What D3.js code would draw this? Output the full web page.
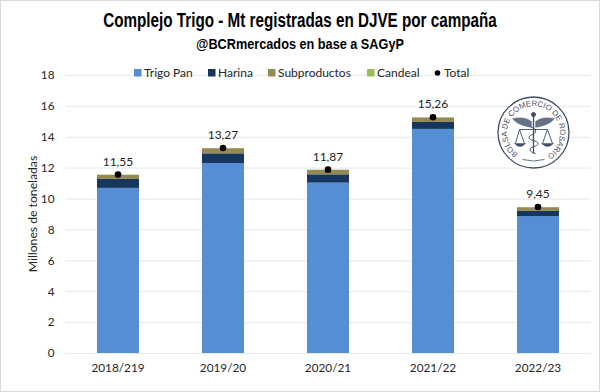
<!DOCTYPE html>
<html>
<head>
<meta charset="utf-8">
<script src="https://cdn.jsdelivr.net/npm/d3@7"></script>
<style>
  html, body { margin: 0; padding: 0; background: #fff; }
  svg { display: block; }
  text { font-family: Lato, sans-serif; fill: #262626; }
</style>
</head>
<body>
<div id="chart"></div>
<script>
'use strict';

const campaigns = ['2018/219', '2019/20', '2020/21', '2021/22', '2022/23'];
const seriesNames = ['Trigo Pan', 'Harina', 'Subproductos', 'Candeal'];
const trigoPan = [10.69, 12.30, 11.03, 14.51, 8.87];
const harina = [0.58, 0.63, 0.54, 0.45, 0.33];
const subproductos = [0.27, 0.33, 0.29, 0.29, 0.24];
const candeal = [0.01, 0.01, 0.01, 0.01, 0.01];
const totals = [11.55, 13.27, 11.87, 15.26, 9.45];
const totalLabels = ['11,55', '13,27', '11,87', '15,26', '9,45'];
const yTicks = [0, 2, 4, 6, 8, 10, 12, 14, 16, 18];
const colors = ['#558ed5', '#17365d', '#948a54', '#9bbb59'];

const width = 600;
const height = 392;
const margin = { top: 75, right: 9.5, bottom: 39, left: 65.5 };

const svg = d3.select('#chart').append('svg')
    .attr('width', width)
    .attr('height', height);

svg.append('rect')
    .attr('x', 0.5).attr('y', 0.5)
    .attr('width', width - 1).attr('height', height - 1)
    .attr('fill', '#fff')
    .attr('stroke', '#d9d9d9');

const xScale = d3.scaleBand()
    .domain(campaigns)
    .range([margin.left, width - margin.right])
    .paddingInner(0.6)
    .paddingOuter(0.3);

const yScale = d3.scaleLinear()
    .domain([0, 18])
    .range([height - margin.bottom, margin.top]);

// grid
const yAxis = d3.axisLeft(yScale)
    .tickValues(yTicks)
    .tickSize(-(width - margin.left - margin.right))
    .tickPadding(11);

const yG = svg.append('g')
    .attr('transform', 'translate(' + margin.left + ',0)')
    .call(yAxis);
yG.select('.domain').remove();
yG.selectAll('line').attr('stroke', '#ebebeb').attr('stroke-width', 1.2);
yG.selectAll('text').style('font-size', '11.8px').style('font-family', 'Lato, sans-serif').style('fill', '#262626');

const xAxis = d3.axisBottom(xScale).tickSize(0).tickPadding(11);
const xG = svg.append('g')
    .attr('transform', 'translate(0,' + (height - margin.bottom) + ')')
    .call(xAxis);
xG.select('.domain').remove();
xG.selectAll('text').style('font-size', '11.8px').style('font-family', 'Lato, sans-serif').style('fill', '#262626');

// stacked bars
const rows = campaigns.map((c, i) => ({
    campaign: c,
    'Trigo Pan': trigoPan[i],
    'Harina': harina[i],
    'Subproductos': subproductos[i],
    'Candeal': candeal[i]
}));
const stacked = d3.stack().keys(seriesNames)(rows);

svg.append('g').selectAll('g')
    .data(stacked)
    .enter()
    .append('g')
    .attr('fill', (d, i) => colors[i])
    .selectAll('rect')
    .data((d) => d)
    .enter()
    .append('rect')
    .attr('x', (d) => xScale(d.data.campaign))
    .attr('y', (d) => yScale(d[1]))
    .attr('width', xScale.bandwidth())
    .attr('height', (d) => yScale(d[0]) - yScale(d[1]));

// total points and labels
svg.append('g').selectAll('circle')
    .data(totals)
    .enter()
    .append('circle')
    .attr('cx', (d, i) => xScale(campaigns[i]) + xScale.bandwidth() / 2)
    .attr('cy', (d) => yScale(d))
    .attr('r', 3.3)
    .attr('fill', '#000');

svg.append('g').selectAll('text')
    .data(totals)
    .enter()
    .append('text')
    .attr('x', (d, i) => xScale(campaigns[i]) + xScale.bandwidth() / 2)
    .attr('y', (d) => yScale(d) - 9)
    .attr('text-anchor', 'middle')
    .style('font-size', '12px')
    .text((d, i) => totalLabels[i]);

// titles, squeezed sideways to look like the condensed face of the original
let squeezedTitle = function squeezedTitle(label, baseline, fontSize, targetWidth) {

    let title = svg.append('text')
        .attr('text-anchor', 'middle')
        .style('font-family', '"Liberation Sans", sans-serif')
        .style('font-weight', 'bold')
        .style('font-size', fontSize + 'px')
        .style('fill', '#000')
        .text(label);

    let ratio = targetWidth / title.node().getComputedTextLength();
    title.attr('transform', 'translate(300,' + baseline + ') scale(' + ratio + ',1)');
}

squeezedTitle('Complejo Trigo - Mt registradas en DJVE por campaña', 27, 20.5, 394);
squeezedTitle('@BCRmercados en base a SAGyP', 49, 15, 208);

// y axis title
svg.append('text')
    .attr('transform', 'translate(37,' + 214 + ') rotate(-90)')
    .attr('text-anchor', 'middle')
    .style('font-size', '12.2px')
    .text('Millones de toneladas');

// legend
const legendItems = seriesNames.concat(['Total']);
const legendX = [134, 208, 268, 367, 434];
const legend = svg.append('g').selectAll('g')
    .data(legendItems)
    .enter()
    .append('g')
    .attr('transform', (d, i) => 'translate(' + legendX[i] + ',76.5)');
legend.filter((d) => d !== 'Total').append('rect')
    .attr('y', -7.5)
    .attr('width', 7.5).attr('height', 7.5)
    .attr('fill', (d, i) => colors[i]);
legend.filter((d) => d === 'Total').append('circle')
    .attr('cx', 3.5).attr('cy', -3.5).attr('r', 2.8).attr('fill', '#000');
legend.append('text')
    .attr('x', 10).attr('y', 0)
    .style('font-size', '12px')
    .text((d) => d);

// logo
const logoColor = '#3f4f68';
const logo = svg.append('g').attr('transform', 'translate(533.5,132.5)');
logo.append('circle').attr('r', 35.5).attr('fill', '#fff').attr('stroke', logoColor).attr('stroke-width', 1.3);

const arcRadius = 26.5;
const arcStart = Math.PI * 0.7;
const arcEnd = Math.PI * 2.3;
const arcPath = d3.path();
arcPath.arc(0, 0, arcRadius, arcStart, arcEnd);
logo.append('path').attr('id', 'logoArc').attr('fill', 'none').attr('d', arcPath.toString());
logo.append('text')
    .style('font-family', '"Liberation Sans", sans-serif')
    .style('font-size', '7.8px')
    .style('fill', logoColor)
    .append('textPath')
    .attr('href', '#logoArc')
    .text('BOLSA DE COMERCIO DE ROSARIO');

const emblem = logo.append('g').attr('fill', 'none').attr('stroke', logoColor).attr('stroke-width', 1);
// wings
emblem.append('path').attr('fill', logoColor).attr('stroke-width', 0.3).attr('opacity', 0.8)
    .attr('d', 'M-2,-11 C-8,-16 -15,-15 -21,-14 C-18,-10 -14,-7 -2,-5 Z M2,-11 C8,-16 15,-15 21,-14 C18,-10 14,-7 2,-5 Z');
// staff and knob
emblem.append('path').attr('stroke-width', 1.3).attr('d', 'M0,-18 L0,21');
emblem.append('circle').attr('cy', -18).attr('r', 2).attr('fill', logoColor);
// snake
emblem.append('path').attr('d', 'M-3,-6 C4,-3 4,0 -3,3 C-6,5 -5,7 3,9 C6,11 5,13 -2,15 C-5,17 -3,20 2,21');
// scales
emblem.append('path').attr('stroke-width', 0.9)
    .attr('d', 'M-14,-3 L14,-3 M-14,-3 L-18,11 M-14,-3 L-9,11 M14,-3 L9,11 M14,-3 L19,11');
emblem.append('path').attr('fill', logoColor).attr('stroke-width', 0.5)
    .attr('d', 'M-19,11 L-8,11 Q-13.5,17 -19,11 Z M8,11 L20,11 Q14,17 8,11 Z');
// small arc under the emblem
emblem.append('path').attr('stroke-width', 0.8).attr('d', 'M-11,27 Q0,30 11,27');
</script>
</body>
</html>
